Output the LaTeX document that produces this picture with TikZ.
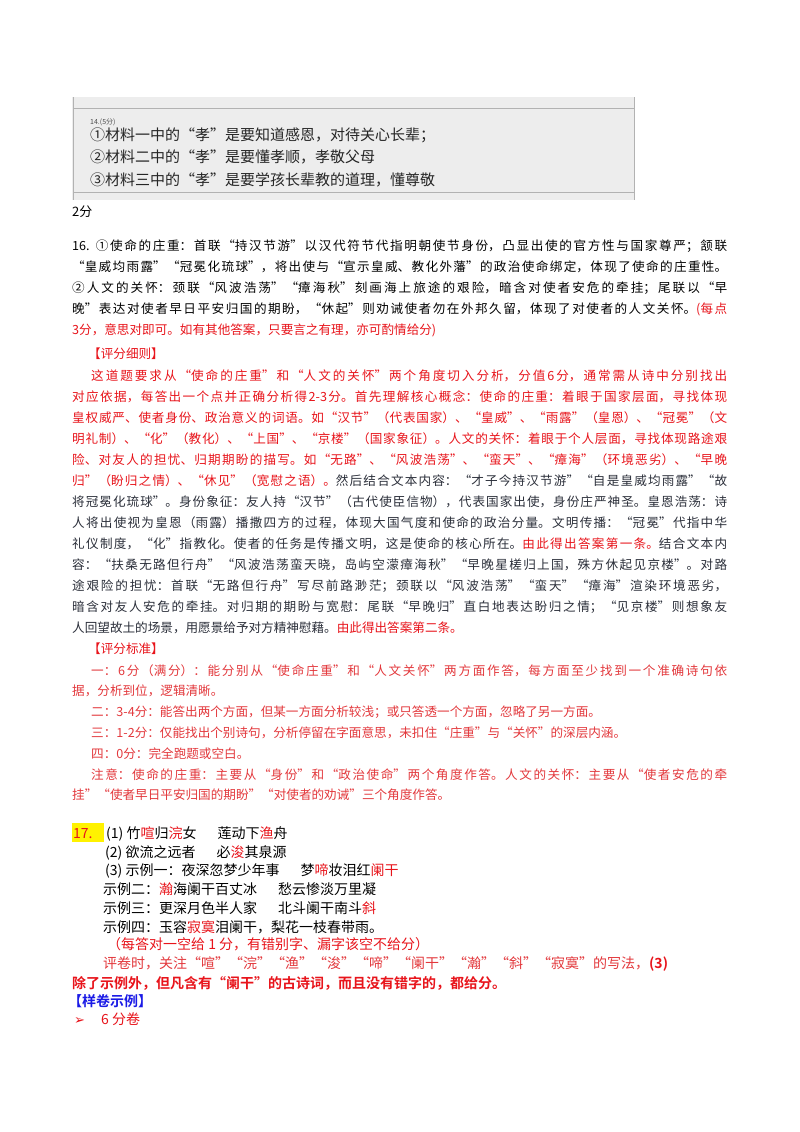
\documentclass[tikz,border=0pt]{standalone}
\usepackage{fontspec}
\setmainfont{Noto Sans CJK SC}
\newfontfamily\cjkb{Noto Sans CJK SC Bold}
\newfontfamily\symf{DejaVu Sans}
\definecolor{rd}{HTML}{E8141B}
\definecolor{lrd}{HTML}{E3383C}
\definecolor{dk}{HTML}{2B2F3A}
\definecolor{bl}{HTML}{1A1AE6}
\XeTeXlinebreaklocale "zh"
\XeTeXlinebreakskip=0pt plus 3pt
\tikzset{para/.style={anchor=base west,inner sep=0pt,text width=655pt,align=justify},
  ln/.style={anchor=base west,inner sep=0pt}}
\begin{document}
\begin{tikzpicture}[x=1pt,y=1pt]
\useasboundingbox (0,0) rectangle (800,-1132);
\fill[white] (0,0) rectangle (800,-1132);
% scanned answer
\fill[gray!14] (72,-97) rectangle (635,-200);
\draw[gray!60,line width=1pt] (73,-97) -- (73,-200) (634,-97) -- (634,-200);
\draw[gray!60,line width=1pt] (73,-108) -- (634,-108) (73,-192) -- (634,-192);
\node[ln,font=\fontsize{7}{8}\selectfont,text=black!70] (hw0) at (90,-124) {14.(5分)};
\node[ln,font=\fontsize{15}{16}\selectfont,text=black!85] (hw1) at (90,-140) {①材料一中的“孝”是要知道感恩，对待关心长辈；};
\node[ln,font=\fontsize{15}{16}\selectfont,text=black!85] (hw2) at (90,-162) {②材料二中的“孝”是要懂孝顺，孝敬父母};
\node[ln,font=\fontsize{15}{16}\selectfont,text=black!85] (hw3) at (90,-185) {③材料三中的“孝”是要学孩长辈教的道理，懂尊敬};
\node[ln,font=\fontsize{13}{14}\selectfont] (two) at (72,-216) {2分};
% 16
\node[para,font=\fontsize{12.6}{21.2}\selectfont] (q16) at (72,-250) {16. ①使命的庄重：首联“持汉节游”以汉代符节代指明朝使节身份，凸显出使的官方性与国家尊严；颔联\linebreak
“皇威均雨露”“冠冕化琉球”，将出使与“宣示皇威、教化外藩”的政治使命绑定，体现了使命的庄重性。\linebreak
②人文的关怀：颈联“风波浩荡”“瘴海秋”刻画海上旅途的艰险，暗含对使者安危的牵挂；尾联以“早\linebreak
晚”表达对使者早日平安归国的期盼，“休起”则劝诫使者勿在外邦久留，体现了对使者的人文关怀。\textcolor{rd}{(每点\linebreak
3分，意思对即可。如有其他答案，只要言之有理，亦可酌情给分)}};
% 评分细则
\node[ln,font=\fontsize{12.6}{14}\selectfont,text=rd] (h1) at (88,-358) {【评分细则】};
\node[para,font=\fontsize{12.6}{21}\selectfont] (xz) at (72,-380) {\color{rd}\hspace*{19pt}这道题要求从“使命的庄重”和“人文的关怀”两个角度切入分析，分值6分，通常需从诗中分别找出\linebreak
对应依据，每答出一个点并正确分析得2-3分。首先理解核心概念：使命的庄重：着眼于国家层面，寻找体现\linebreak
皇权威严、使者身份、政治意义的词语。如“汉节”（代表国家）、“皇威”、“雨露”（皇恩）、“冠冕”（文\linebreak
明礼制）、“化”（教化）、“上国”、“京楼”（国家象征）。人文的关怀：着眼于个人层面，寻找体现路途艰\linebreak
险、对友人的担忧、归期期盼的描写。如“无路”、“风波浩荡”、“蛮天”、“瘴海”（环境恶劣）、“早晚\linebreak
归”（盼归之情）、“休见”（宽慰之语）。\color{dk}然后结合文本内容：“才子今持汉节游”“自是皇威均雨露”“故\linebreak
将冠冕化琉球”。身份象征：友人持“汉节”（古代使臣信物），代表国家出使，身份庄严神圣。皇恩浩荡：诗\linebreak
人将出使视为皇恩（雨露）播撒四方的过程，体现大国气度和使命的政治分量。文明传播：“冠冕”代指中华\linebreak
礼仪制度，“化”指教化。使者的任务是传播文明，这是使命的核心所在。\textcolor{rd}{由此得出答案第一条。}结合文本内\linebreak
容：“扶桑无路但行舟”“风波浩荡蛮天晓，岛屿空濛瘴海秋”“早晚星槎归上国，殊方休起见京楼”。对路\linebreak
途艰险的担忧：首联“无路但行舟”写尽前路渺茫；颈联以“风波浩荡”“蛮天”“瘴海”渲染环境恶劣，\linebreak
暗含对友人安危的牵挂。对归期的期盼与宽慰：尾联“早晚归”直白地表达盼归之情；“见京楼”则想象友\linebreak
人回望故土的场景，用愿景给予对方精神慰藉。\textcolor{rd}{由此得出答案第二条。}};
% 评分标准
\node[ln,font=\fontsize{12.6}{14}\selectfont,text=rd] (h2) at (88,-653) {【评分标准】};
\node[para,font=\fontsize{12.6}{20.8}\selectfont] (bz) at (72,-675) {\color{lrd}\hspace*{19pt}一：6分（满分）：能分别从“使命庄重”和“人文关怀”两方面作答，每方面至少找到一个准确诗句依\linebreak
据，分析到位，逻辑清晰。\\
\hspace*{19pt}二：3-4分：能答出两个方面，但某一方面分析较浅；或只答透一个方面，忽略了另一方面。\\
\hspace*{19pt}三：1-2分：仅能找出个别诗句，分析停留在字面意思，未扣住“庄重”与“关怀”的深层内涵。\\
\hspace*{19pt}四：0分：完全跑题或空白。\\
\hspace*{19pt}注意：使命的庄重：主要从“身份”和“政治使命”两个角度作答。人文的关怀：主要从“使者安危的牵\linebreak
挂”“使者早日平安归国的期盼”“对使者的劝诫”三个角度作答。};
% 17
\fill[yellow] (72,-823) rectangle (104,-842);
\node[ln,font=\fontsize{14}{15}\selectfont,text=rd] (n17) at (73,-838) {17.};
\begin{scope}[every node/.style={ln,font=\fontsize{14}{15}\selectfont}]
\node (l1) at (106,-838) {(1) 竹\textcolor{rd}{喧}归\textcolor{rd}{浣}女\hspace{1.5em}莲动下\textcolor{rd}{渔}舟};
\node (l2) at (105,-857) {(2) 欲流之远者\hspace{1.5em}必\textcolor{rd}{浚}其泉源};
\node (l3) at (105,-875) {(3) 示例一：夜深忽梦少年事\hspace{1.5em}梦\textcolor{rd}{啼}妆泪红\textcolor{rd}{阑干}};
\node (l4) at (103,-894) {示例二：\textcolor{rd}{瀚}海阑干百丈冰\hspace{1.5em}愁云惨淡万里凝};
\node (l5) at (103,-913) {示例三：更深月色半人家\hspace{1.5em}北斗阑干南斗\textcolor{rd}{斜}};
\node (l6) at (103,-932) {示例四：玉容\textcolor{rd}{寂寞}泪阑干，梨花一枝春带雨。};
\node[text=rd] (l7) at (107,-949) {（每答对一空给 1 分，有错别字、漏字该空不给分）};
\node[text=lrd] (l8) at (103,-968) {评卷时，关注“喧”“浣”“渔”“浚”“啼”“阑干”“瀚”“斜”“寂寞”的写法，\textcolor{rd}{\cjkb(3)}};
\node[text=rd,font=\cjkb\fontsize{14}{15}\selectfont] (l9) at (72,-988) {除了示例外，但凡含有“阑干”的古诗词，而且没有错字的，都给分。};
\node[text=bl,font=\cjkb\fontsize{14}{15}\selectfont] (l10) at (68,-1006) {【样卷示例】};
\node[text=rd,font=\symf\fontsize{13}{14}\selectfont] (l11) at (74,-1024) {➢};
\node[text=rd] (l12) at (101,-1024) {6 分卷};
\end{scope}
\end{tikzpicture}
\end{document}
